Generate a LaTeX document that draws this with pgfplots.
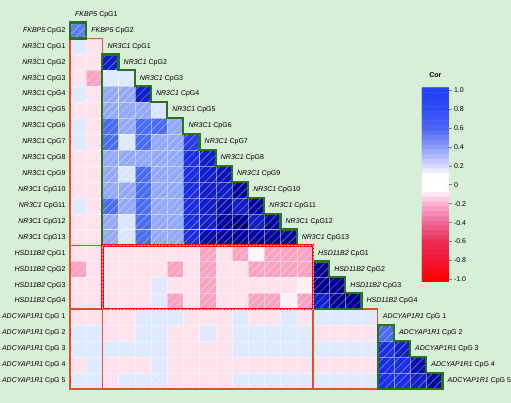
\documentclass[border=0pt]{standalone}
\usepackage{pgfplots}
\pgfplotsset{compat=1.18}
\usetikzlibrary{patterns.meta}
\usepackage{fontspec}
\setmainfont{Liberation Sans}
\definecolor{bg}{RGB}{214,239,214}
\definecolor{grn}{RGB}{40,115,30}
\definecolor{org}{RGB}{222,82,40}
\definecolor{redb}{RGB}{232,12,12}
\newcommand\lab{\fontsize{7}{8}\selectfont}
\pgfplotsset{
 colormap={cellmap}{rgb255(0pt)=(255,0,0) rgb255(65pt)=(249,163,195) rgb255(90pt)=(253,225,236) rgb255(100pt)=(255,255,255) rgb255(110pt)=(221,233,255) rgb255(140pt)=(147,169,247) rgb255(160pt)=(74,108,240) rgb255(180pt)=(26,46,230) rgb255(195pt)=(0,0,143) rgb255(200pt)=(0,0,120)},
 colormap={barmap}{rgb255(0pt)=(255,0,0) rgb255(20pt)=(245,20,50) rgb255(40pt)=(235,45,85) rgb255(60pt)=(240,100,150) rgb255(80pt)=(255,175,210) rgb255(90pt)=(255,232,242) rgb255(95pt)=(255,255,255) rgb255(110pt)=(255,255,255) rgb255(120pt)=(215,218,255) rgb255(140pt)=(140,155,250) rgb255(160pt)=(75,100,245) rgb255(180pt)=(45,75,245) rgb255(200pt)=(35,65,245)},
 gridax/.style={at={(70pt,14pt)}, anchor=south west,
  scale only axis, width=372.6pt, height=366.4pt,
  xmin=0.5, xmax=23.5, ymin=0.5, ymax=23.5, y dir=reverse, clip=false},
}
\begin{document}
\begin{tikzpicture}
\fill[bg] (0,0) rectangle (511pt,403pt);
% ---------- cells ----------
\begin{axis}[gridax,
  xtick=\empty, ytick={1,...,23},
  yticklabels={\textit{FKBP5} CpG2,\textit{NR3C1} CpG1,\textit{NR3C1} CpG2,\textit{NR3C1} CpG3,\textit{NR3C1} CpG4,\textit{NR3C1} CpG5,\textit{NR3C1} CpG6,\textit{NR3C1} CpG7,\textit{NR3C1} CpG8,\textit{NR3C1} CpG9,\textit{NR3C1} CpG10,\textit{NR3C1} CpG11,\textit{NR3C1} CpG12,\textit{NR3C1} CpG13,\textit{HSD11B2} CpG1,\textit{HSD11B2} CpG2,\textit{HSD11B2} CpG3,\textit{HSD11B2} CpG4,\textit{ADCYAP1R1} CpG 1,\textit{ADCYAP1R1} CpG 2,\textit{ADCYAP1R1} CpG 3,\textit{ADCYAP1R1} CpG 4,\textit{ADCYAP1R1} CpG 5},
  major tick length=0pt,
  yticklabel style={font=\lab, inner sep=0pt, xshift=-4.3pt},
  axis line style={draw=none},
  colormap name=cellmap, point meta min=-1, point meta max=1,
]
\addplot[scatter, only marks, mark=square*, mark size=8.1pt, point meta=explicit,
  scatter/use mapped color={draw=white, draw opacity=0.45, fill=mapped color},
  mark options={line width=0.3pt, yscale=0.983}] coordinates {
(1,1)[0.55]
(1,2)[0.1] (2,2)[-0.1]
(1,3)[-0.1] (2,3)[-0.1] (3,3)[0.85]
(1,4)[-0.1] (2,4)[-0.35] (3,4)[0.1] (4,4)[0.1]
(1,5)[0.1] (2,5)[-0.1] (3,5)[0.4] (4,5)[0.4] (5,5)[0.85]
(1,6)[-0.1] (2,6)[-0.1] (3,6)[0.4] (4,6)[0.4] (5,6)[0.4] (6,6)[0.12]
(1,7)[0.1] (2,7)[-0.1] (3,7)[0.6] (4,7)[0.4] (5,7)[0.6] (6,7)[0.6] (7,7)[0.4]
(1,8)[0.1] (2,8)[-0.1] (3,8)[0.6] (4,8)[0.1] (5,8)[0.6] (6,8)[0.4] (7,8)[0.4] (8,8)[0.75]
(1,9)[-0.1] (2,9)[-0.1] (3,9)[0.4] (4,9)[0.4] (5,9)[0.4] (6,9)[0.4] (7,9)[0.4] (8,9)[0.8] (9,9)[0.85]
(1,10)[-0.1] (2,10)[-0.1] (3,10)[0.4] (4,10)[0.12] (5,10)[0.6] (6,10)[0.4] (7,10)[0.4] (8,10)[0.8] (9,10)[0.85] (10,10)[0.88]
(1,11)[-0.1] (2,11)[-0.1] (3,11)[0.4] (4,11)[0.4] (5,11)[0.6] (6,11)[0.4] (7,11)[0.4] (8,11)[0.8] (9,11)[0.85] (10,11)[0.85] (11,11)[0.93]
(1,12)[0.1] (2,12)[-0.1] (3,12)[0.6] (4,12)[0.4] (5,12)[0.6] (6,12)[0.4] (7,12)[0.4] (8,12)[0.8] (9,12)[0.85] (10,12)[0.9] (11,12)[0.85] (12,12)[0.93]
(1,13)[-0.1] (2,13)[-0.1] (3,13)[0.4] (4,13)[0.12] (5,13)[0.6] (6,13)[0.4] (7,13)[0.4] (8,13)[0.8] (9,13)[0.85] (10,13)[0.92] (11,13)[0.95] (12,13)[0.85] (13,13)[0.93]
(1,14)[-0.1] (2,14)[-0.1] (3,14)[0.4] (4,14)[0.12] (5,14)[0.6] (6,14)[0.4] (7,14)[0.4] (8,14)[0.8] (9,14)[0.9] (10,14)[0.92] (11,14)[0.93] (12,14)[0.93] (13,14)[0.93] (14,14)[0.93]
(1,15)[-0.1] (2,15)[-0.1] (3,15)[-0.1] (4,15)[-0.1] (5,15)[-0.1] (6,15)[-0.1] (7,15)[-0.1] (8,15)[-0.1] (9,15)[-0.35] (10,15)[-0.1] (11,15)[-0.35] (12,15)[-0.03] (13,15)[-0.35] (14,15)[-0.35] (15,15)[-0.35]
(1,16)[-0.35] (2,16)[-0.1] (3,16)[-0.1] (4,16)[-0.1] (5,16)[-0.1] (6,16)[-0.1] (7,16)[-0.35] (8,16)[-0.1] (9,16)[-0.35] (10,16)[-0.1] (11,16)[-0.1] (12,16)[-0.35] (13,16)[-0.35] (14,16)[-0.35] (15,16)[-0.35] (16,16)[0.95]
(1,17)[-0.1] (2,17)[-0.1] (3,17)[-0.1] (4,17)[-0.1] (5,17)[-0.1] (6,17)[0.1] (7,17)[-0.1] (8,17)[-0.1] (9,17)[-0.35] (10,17)[-0.1] (11,17)[-0.1] (12,17)[-0.1] (13,17)[-0.1] (14,17)[-0.1] (15,17)[-0.05] (16,17)[0.95] (17,17)[0.95]
(1,18)[-0.1] (2,18)[-0.1] (3,18)[-0.1] (4,18)[-0.1] (5,18)[-0.1] (6,18)[0.1] (7,18)[-0.35] (8,18)[-0.1] (9,18)[-0.35] (10,18)[-0.1] (11,18)[-0.1] (12,18)[-0.35] (13,18)[-0.35] (14,18)[-0.05] (15,18)[-0.35] (16,18)[0.85] (17,18)[0.95] (18,18)[0.95]
(1,19)[-0.1] (2,19)[-0.1] (3,19)[-0.1] (4,19)[-0.1] (5,19)[0.1] (6,19)[0.1] (7,19)[0.1] (8,19)[-0.1] (9,19)[-0.1] (10,19)[-0.1] (11,19)[0.1] (12,19)[-0.1] (13,19)[-0.1] (14,19)[0.1] (15,19)[-0.1] (16,19)[0.1] (17,19)[0.1] (18,19)[0.1] (19,19)[0.1]
(1,20)[0.1] (2,20)[0.1] (3,20)[-0.1] (4,20)[-0.1] (5,20)[0.1] (6,20)[0.1] (7,20)[-0.1] (8,20)[-0.1] (9,20)[0.1] (10,20)[-0.1] (11,20)[0.1] (12,20)[0.1] (13,20)[0.1] (14,20)[0.1] (15,20)[0.1] (16,20)[-0.1] (17,20)[-0.1] (18,20)[-0.1] (19,20)[-0.1] (20,20)[0.6]
(1,21)[0.1] (2,21)[0.1] (3,21)[0.1] (4,21)[0.1] (5,21)[0.1] (6,21)[0.1] (7,21)[-0.1] (8,21)[-0.1] (9,21)[-0.1] (10,21)[-0.1] (11,21)[0.1] (12,21)[0.1] (13,21)[0.1] (14,21)[0.1] (15,21)[0.1] (16,21)[0.1] (17,21)[0.1] (18,21)[0.1] (19,21)[0.1] (20,21)[0.8] (21,21)[0.85]
(1,22)[-0.1] (2,22)[0.1] (3,22)[-0.1] (4,22)[-0.1] (5,22)[-0.1] (6,22)[0.1] (7,22)[-0.1] (8,22)[-0.1] (9,22)[-0.1] (10,22)[-0.1] (11,22)[-0.1] (12,22)[-0.1] (13,22)[-0.1] (14,22)[-0.1] (15,22)[-0.1] (16,22)[-0.1] (17,22)[-0.1] (18,22)[-0.1] (19,22)[-0.1] (20,22)[0.8] (21,22)[0.8] (22,22)[0.9]
(1,23)[0.1] (2,23)[0.1] (3,23)[-0.1] (4,23)[0.1] (5,23)[0.1] (6,23)[0.1] (7,23)[-0.1] (8,23)[-0.1] (9,23)[-0.1] (10,23)[-0.1] (11,23)[0.1] (12,23)[0.1] (13,23)[0.1] (14,23)[0.1] (15,23)[0.1] (16,23)[0.1] (17,23)[0.1] (18,23)[0.1] (19,23)[0.1] (20,23)[0.8] (21,23)[0.8] (22,23)[0.85] (23,23)[0.92]
};
\end{axis}
% ---------- overlay: hatching, boxes, labels ----------
\begin{axis}[gridax, hide axis]
\fill[pattern={Lines[angle=45,distance=5.7pt,line width=0.45pt]}, pattern color=white, opacity=0.5]
 (0.5,0.5) -- (1.5,0.5) |- (2.5,1.5) |- (3.5,2.5) |- (4.5,3.5) |- (5.5,4.5) |- (6.5,5.5) |- (7.5,6.5) |- (8.5,7.5) |- (9.5,8.5) |- (10.5,9.5) |- (11.5,10.5) |- (12.5,11.5) |- (13.5,12.5) |- (14.5,13.5) |- (15.5,14.5) |- (16.5,15.5) |- (17.5,16.5) |- (18.5,17.5) |- (19.5,18.5) |- (20.5,19.5) |- (21.5,20.5) |- (22.5,21.5) |- (23.5,22.5) -- (23.5,23.5) -- (0.5,23.5) -- cycle;
\draw[org, line width=1.5pt] (0.5,1.5) rectangle (2.5,14.5);
\draw[org, line width=1.5pt] (0.5,14.5) rectangle (2.5,18.5);
\draw[org, line width=1.5pt] (0.5,18.5) rectangle (2.5,23.5);
\draw[org, line width=1.5pt] (2.5,18.5) rectangle (15.5,23.5);
\draw[org, line width=1.5pt] (15.5,18.5) rectangle (19.5,23.5);
\draw[grn, line width=2.2pt] (0.5,0.5) rectangle (1.5,1.5);
\draw[grn, line width=2.2pt] (2.5,2.5) -- (3.5,2.5) |- (4.5,3.5) |- (5.5,4.5) |- (6.5,5.5) |- (7.5,6.5) |- (8.5,7.5) |- (9.5,8.5) |- (10.5,9.5) |- (11.5,10.5) |- (12.5,11.5) |- (13.5,12.5) |- (14.5,13.5) -- (14.5,14.5) -- (2.5,14.5) -- cycle;
\draw[grn, line width=2.2pt] (15.5,15.5) -- (16.5,15.5) |- (17.5,16.5) |- (18.5,17.5) -- (18.5,18.5) -- (15.5,18.5) -- cycle;
\draw[grn, line width=2.2pt] (19.5,19.5) -- (20.5,19.5) |- (21.5,20.5) |- (22.5,21.5) |- (23.5,22.5) -- (23.5,23.5) -- (19.5,23.5) -- cycle;
\draw[redb, line width=2.3pt] (2.5,14.5) rectangle (15.5,18.5);
\draw[white, line width=0.4pt, densely dotted, opacity=0.6] (2.5,14.5) rectangle (15.5,18.5);
\begin{scope}[every node/.style={anchor=west, font=\lab, inner sep=0pt, xshift=5pt}]
\node at (0.5,0) {\textit{FKBP5} CpG1};
\node at (1.5,1) {\textit{FKBP5} CpG2};
\node at (2.5,2) {\textit{NR3C1} CpG1};
\node at (3.5,3) {\textit{NR3C1} CpG2};
\node at (4.5,4) {\textit{NR3C1} CpG3};
\node at (5.5,5) {\textit{NR3C1} CpG4};
\node at (6.5,6) {\textit{NR3C1} CpG5};
\node at (7.5,7) {\textit{NR3C1} CpG6};
\node at (8.5,8) {\textit{NR3C1} CpG7};
\node at (9.5,9) {\textit{NR3C1} CpG8};
\node at (10.5,10) {\textit{NR3C1} CpG9};
\node at (11.5,11) {\textit{NR3C1} CpG10};
\node at (12.5,12) {\textit{NR3C1} CpG11};
\node at (13.5,13) {\textit{NR3C1} CpG12};
\node at (14.5,14) {\textit{NR3C1} CpG13};
\node at (15.5,15) {\textit{HSD11B2} CpG1};
\node at (16.5,16) {\textit{HSD11B2} CpG2};
\node at (17.5,17) {\textit{HSD11B2} CpG3};
\node at (18.5,18) {\textit{HSD11B2} CpG4};
\node at (19.5,19) {\textit{ADCYAP1R1} CpG 1};
\node at (20.5,20) {\textit{ADCYAP1R1} CpG 2};
\node at (21.5,21) {\textit{ADCYAP1R1} CpG 3};
\node at (22.5,22) {\textit{ADCYAP1R1} CpG 4};
\node at (23.5,23) {\textit{ADCYAP1R1} CpG 5};
\end{scope}
\end{axis}
% ---------- colour key ----------
\begin{axis}[at={(422pt,121pt)}, anchor=south west, scale only axis,
  width=27pt, height=194.4pt,
  xmin=-0.5, xmax=1.5, ymin=-1.025, ymax=1.025, xtick=\empty,
  ytick={-1,-0.8,-0.6,-0.4,-0.2,0,0.2,0.4,0.6,0.8,1},
  yticklabels={-1.0,-0.8,-0.6,-0.4,-0.2,0,0.2,0.4,0.6,0.8,1.0},
  ytick pos=right, yticklabel pos=right, tick align=outside, major tick length=3pt,
  ytick style={draw=gray, line width=0.5pt},
  yticklabel style={font=\lab, inner sep=0pt, xshift=2pt, anchor=west},
  axis line style={draw=none},
  colormap name=barmap, point meta min=-1, point meta max=1,
  title={\textbf{Cor}}, title style={font=\lab, inner sep=0pt, yshift=4pt}]
\addplot[matrix plot*, mesh/cols=2, point meta=y] coordinates {
(0,-1) (1,-1) (0,-0.95) (1,-0.95) (0,-0.9) (1,-0.9) (0,-0.85) (1,-0.85) (0,-0.8) (1,-0.8)
(0,-0.75) (1,-0.75) (0,-0.7) (1,-0.7) (0,-0.65) (1,-0.65) (0,-0.6) (1,-0.6) (0,-0.55) (1,-0.55)
(0,-0.5) (1,-0.5) (0,-0.45) (1,-0.45) (0,-0.4) (1,-0.4) (0,-0.35) (1,-0.35) (0,-0.3) (1,-0.3)
(0,-0.25) (1,-0.25) (0,-0.2) (1,-0.2) (0,-0.15) (1,-0.15) (0,-0.1) (1,-0.1) (0,-0.05) (1,-0.05)
(0,0) (1,0) (0,0.05) (1,0.05) (0,0.1) (1,0.1) (0,0.15) (1,0.15) (0,0.2) (1,0.2)
(0,0.25) (1,0.25) (0,0.3) (1,0.3) (0,0.35) (1,0.35) (0,0.4) (1,0.4) (0,0.45) (1,0.45)
(0,0.5) (1,0.5) (0,0.55) (1,0.55) (0,0.6) (1,0.6) (0,0.65) (1,0.65) (0,0.7) (1,0.7)
(0,0.75) (1,0.75) (0,0.8) (1,0.8) (0,0.85) (1,0.85) (0,0.9) (1,0.9) (0,0.95) (1,0.95)
(0,1) (1,1)
};
\end{axis}
\end{tikzpicture}
\end{document}
